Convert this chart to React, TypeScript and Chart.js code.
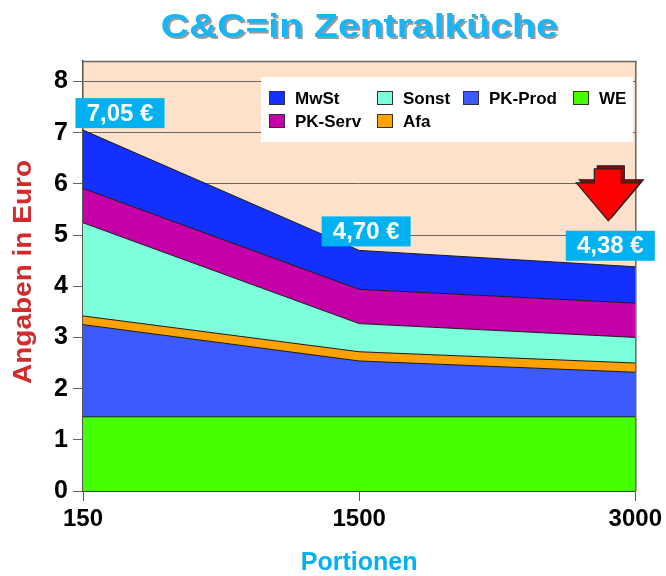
import React, { useEffect, useRef } from "react";
import { Chart, registerables } from "chart.js";

Chart.register(...registerables);

const categories = ["150", "1500", "3000"];
const weValues = [1.45, 1.45, 1.45];
const pkProdValues = [1.8, 1.09, 0.87];
const afaValues = [0.17, 0.18, 0.18];
const sonstValues = [1.82, 0.55, 0.5];
const pkServValues = [0.67, 0.67, 0.67];
const mwstValues = [1.14, 0.76, 0.71];
const yTicks = [0, 1, 2, 3, 4, 5, 6, 7, 8];
const legendOrder = ["MwSt", "Sonst", "PK-Prod", "WE", "PK-Serv", "Afa"];

const chartTitle = "C&C=in Zentralküche";
const yTitle = "Angaben in Euro";
const xTitle = "Portionen";

const FONT = "'Liberation Sans', Arial, Helvetica, sans-serif";
const CYAN = "#00b2f2";

const seriesDefs = [
  { label: "WE", data: weValues, color: "#44ff00" },
  { label: "PK-Prod", data: pkProdValues, color: "#3d5aff" },
  { label: "Afa", data: afaValues, color: "#ffa200" },
  { label: "Sonst", data: sonstValues, color: "#7effdc" },
  { label: "PK-Serv", data: pkServValues, color: "#c600a8" },
  { label: "MwSt", data: mwstValues, color: "#1430ff" },
];

const labelOffsets = [
  [37, -17],
  [7, -19],
  [-25, -21],
];
const legendColumnX = [8, 116, 202, 312];
const legendRowY = [14, 37];

function fitText(ctx: any, text: string, x: number, y: number, width: number) {
  const w = ctx.measureText(text).width;
  ctx.save();
  ctx.translate(x, y);
  ctx.scale(width / w, 1);
  ctx.fillText(text, 0, 0);
  ctx.restore();
}

const decor = {
  id: "decor",
  beforeDraw(chart: any) {
    const { ctx, chartArea: a } = chart;
    ctx.save();
    ctx.fillStyle = "#fde1ca";
    ctx.fillRect(a.left, a.top, a.right - a.left, a.bottom - a.top);
    ctx.restore();
  },
  afterDraw(chart: any) {
    const { ctx, chartArea: a } = chart;
    const xs = chart.scales.x;
    const ys = chart.scales.y;
    ctx.save();

    // frame top & right
    ctx.strokeStyle = "#666";
    ctx.lineWidth = 1.5;
    ctx.beginPath();
    ctx.moveTo(a.left, a.top + 0.5);
    ctx.lineTo(a.right + 0.5, a.top + 0.5);
    ctx.lineTo(a.right + 0.5, a.bottom);
    ctx.stroke();

    // title
    ctx.font = `bold 34px ${FONT}`;
    ctx.textAlign = "center";
    ctx.textBaseline = "middle";
    const tx = (a.left + a.right) / 2;
    ctx.fillStyle = "#9a9a9a";
    fitText(ctx, chartTitle, tx + 2, 28 + 2, 397);
    ctx.fillStyle = "#16b6f8";
    fitText(ctx, chartTitle, tx, 28, 397);

    // x title
    ctx.font = `bold 25px ${FONT}`;
    ctx.fillStyle = CYAN;
    ctx.fillText(xTitle, tx, 563);

    // y title
    ctx.save();
    ctx.translate(24, 272);
    ctx.rotate(-Math.PI / 2);
    ctx.font = `bold 26px ${FONT}`;
    ctx.fillStyle = "#d22b2b";
    fitText(ctx, yTitle, 0, 0, 224);
    ctx.restore();

    // legend
    const lx = a.left + 178;
    const ly = a.top + 16;
    ctx.fillStyle = "#ffffff";
    ctx.fillRect(lx, ly, 372, 65);
    ctx.font = `bold 17px ${FONT}`;
    ctx.textAlign = "left";
    legendOrder.forEach((name, i) => {
      const ds = chart.data.datasets.find((d: any) => d.label === name);
      if (!ds) return;
      const col = i % 4;
      const row = Math.floor(i / 4);
      const sx = lx + legendColumnX[col];
      const sy = ly + legendRowY[row];
      ctx.fillStyle = ds.backgroundColor;
      ctx.fillRect(sx, sy, 16, 14);
      ctx.strokeStyle = "#333";
      ctx.lineWidth = 1;
      ctx.strokeRect(sx + 0.5, sy + 0.5, 15, 13);
      ctx.fillStyle = "#000";
      ctx.fillText(ds.label, sx + 26, sy + 8);
    });

    // value labels
    ctx.font = `bold 24px ${FONT}`;
    ctx.textAlign = "center";
    categories.forEach((c, i) => {
      const total = seriesDefs.reduce((s, d) => s + d.data[i], 0);
      const text = total.toFixed(2).replace(".", ",") + " €";
      const px = xs.getPixelForValue(i);
      const py = ys.getPixelForValue(total);
      const cx = px + labelOffsets[i][0];
      const cy = py + labelOffsets[i][1];
      ctx.fillStyle = CYAN;
      ctx.fillRect(cx - 44.5, cy - 15, 89, 30);
      ctx.fillStyle = "#ffffff";
      ctx.fillText(text, cx, cy + 1);
    });

    // arrow
    const last = categories.length - 1;
    const lastTotal = seriesDefs.reduce((s, d) => s + d.data[last], 0);
    const ax = xs.getPixelForValue(last) - 27;
    const tipY = ys.getPixelForValue(lastTotal) - 46;
    const pts = [
      [-14, -52],
      [13, -52],
      [13, -38],
      [32, -38],
      [0, 0],
      [-32, -38],
      [-14, -38],
    ];
    const drawPoly = (ox: number, oy: number, fill: string) => {
      ctx.beginPath();
      pts.forEach(([dx, dy], k) => {
        const X = ax + dx + ox;
        const Y = tipY + dy + oy;
        if (k === 0) ctx.moveTo(X, Y);
        else ctx.lineTo(X, Y);
      });
      ctx.closePath();
      ctx.fillStyle = fill;
      ctx.fill();
      ctx.strokeStyle = "#222";
      ctx.lineWidth = 1.2;
      ctx.stroke();
    };
    drawPoly(3, -3, "#a00000");
    drawPoly(0, 0, "#ff0000");

    ctx.restore();
  },
};

export default function App() {
  const ref = useRef<HTMLCanvasElement | null>(null);
  useEffect(() => {
    if (!ref.current) return;
    const chart = new Chart(ref.current, {
      type: "line",
      data: {
        labels: categories,
        datasets: seriesDefs.map((d, i) => ({
          label: d.label,
          data: d.data,
          backgroundColor: d.color,
          borderColor: "#1a1a1a",
          borderWidth: 1,
          pointRadius: 0,
          fill: i === 0 ? "origin" : "-1",
          tension: 0,
        })),
      },
      options: {
        animation: false,
        responsive: false,
        layout: { padding: { top: 61, right: 29, left: 0, bottom: 0 } },
        plugins: {
          legend: { display: false },
          title: { display: false },
          tooltip: { enabled: false },
        },
        scales: {
          x: {
            type: "category",
            offset: false,
            grid: {
              display: true,
              drawOnChartArea: false,
              drawTicks: true,
              tickLength: 10,
              color: "#555",
            },
            border: { display: true, color: "#1a1a1a", width: 1.5 },
            ticks: {
              color: "#000",
              font: { family: FONT, size: 24, weight: "bold" },
              padding: 4,
              maxRotation: 0,
            },
            afterFit: (s: any) => {
              s.height = 85;
            },
          },
          y: {
            stacked: true,
            min: 0,
            max: 8.4,
            afterBuildTicks: (s: any) => {
              s.ticks = yTicks.map((v) => ({ value: v }));
            },
            grid: {
              color: "#666",
              lineWidth: 1,
              drawTicks: true,
              tickLength: 10,
            },
            border: { display: true, color: "#555", width: 1.5 },
            ticks: {
              color: "#000",
              font: { family: FONT, size: 25, weight: "bold" },
              padding: 5,
            },
            afterFit: (s: any) => {
              s.width = 83;
            },
          },
        },
      },
      plugins: [decor],
    });
    return () => chart.destroy();
  }, []);
  return (
    <div style={{ position: "fixed", left: 0, top: 0, width: 666, height: 576, background: "#fff" }}>
      <canvas ref={ref} width={666} height={576} />
    </div>
  );
}
